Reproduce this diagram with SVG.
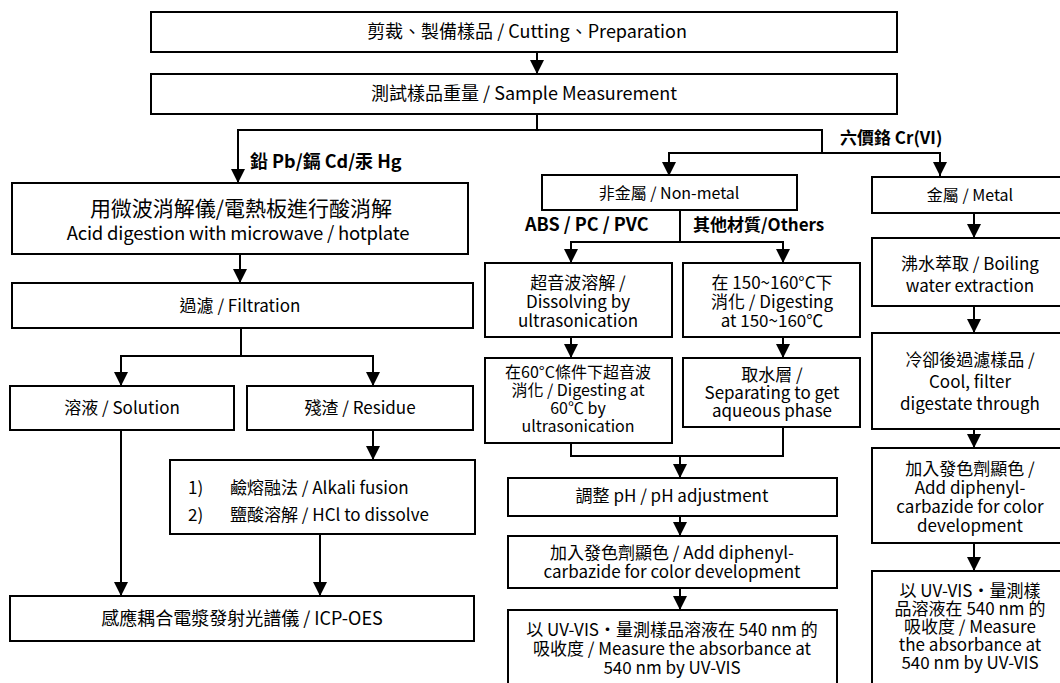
<svg xmlns="http://www.w3.org/2000/svg" width="1060" height="683" viewBox="0 0 1060 683">
<style>
.box{fill:#fff;stroke:#000;stroke-width:2}
.c{fill:none;stroke:#000;stroke-width:2}
text{font-family:"Noto Sans CJK TC","Noto Sans",sans-serif;fill:#000;font-size:17px}
.m{text-anchor:middle}
.b{font-weight:bold;font-size:18px}
.l{font-size:21px}
.la{font-size:18.5px;letter-spacing:-0.2px}
.s{font-size:16px}
.n{font-size:16px}
.big{font-size:18px}
</style>
<defs>
<marker id="arr" markerUnits="userSpaceOnUse" markerWidth="14" markerHeight="14" refX="14" refY="7" orient="auto">
<path d="M0,0 L14,7 L0,14 z" fill="#000"/>
</marker>
</defs>
<rect width="1060" height="683" fill="#fff"/>
<g id="connectors">
<path class="c" d="M537 52 V74" marker-end="url(#arr)"/>
<path class="c" d="M537 114 V130 H238 V183" marker-end="url(#arr)"/>
<path class="c" d="M537 130 H822 V153 H669 V176" marker-end="url(#arr)"/>
<path class="c" d="M822 153 H940 V176" marker-end="url(#arr)"/>
<path class="c" d="M240 254 V283" marker-end="url(#arr)"/>
<path class="c" d="M241 328 V356 H121 V386" marker-end="url(#arr)"/>
<path class="c" d="M241 356 H373 V386" marker-end="url(#arr)"/>
<path class="c" d="M373 430 V460" marker-end="url(#arr)"/>
<path class="c" d="M121 430 V596" marker-end="url(#arr)"/>
<path class="c" d="M320 534 V596" marker-end="url(#arr)"/>
<path class="c" d="M680 210 V242 H571 V263" marker-end="url(#arr)"/>
<path class="c" d="M680 242 H783 V263" marker-end="url(#arr)"/>
<path class="c" d="M571 337 V358" marker-end="url(#arr)"/>
<path class="c" d="M783 337 V358" marker-end="url(#arr)"/>
<path class="c" d="M571 443 V456 H783 V427"/>
<path class="c" d="M680 456 V478" marker-end="url(#arr)"/>
<path class="c" d="M680 516 V536" marker-end="url(#arr)"/>
<path class="c" d="M680 588 V610" marker-end="url(#arr)"/>
<path class="c" d="M974 213 V238" marker-end="url(#arr)"/>
<path class="c" d="M974 306 V333" marker-end="url(#arr)"/>
<path class="c" d="M974 429 V448" marker-end="url(#arr)"/>
<path class="c" d="M974 543 V571" marker-end="url(#arr)"/>
<text x="250" y="168" class="b">鉛 Pb/鎘 Cd/汞 Hg</text>
<text x="840" y="144" class="b" style="font-size:17px">六價鉻 Cr(VI)</text>
<text x="525" y="231" class="b">ABS / PC / PVC</text>
<text x="693" y="231" class="b" style="font-size:17px">其他材質/Others</text>
</g>
<g id="cutting"><rect class="box" x="151" y="12" width="746" height="40"/><text class="m big" x="527" y="38">剪裁、製備樣品 / Cutting、Preparation</text></g>
<g id="measure"><rect class="box" x="151" y="74" width="746" height="40"/><text class="m big" x="524" y="100">測試樣品重量 / Sample Measurement</text></g>
<g id="acid"><rect class="box" x="12" y="183" width="456" height="71"/><text class="m"><tspan class="l" x="241" y="216">用微波消解儀/電熱板進行酸消解</tspan><tspan class="la" x="238" y="240">Acid digestion with microwave / hotplate</tspan></text></g>
<g id="filtration"><rect class="box" x="12" y="283" width="461" height="45"/><text class="m" x="240" y="312">過濾 / Filtration</text></g>
<g id="solution"><rect class="box" x="10" y="386" width="224" height="44"/><text class="m" x="122" y="414">溶液 / Solution</text></g>
<g id="residue"><rect class="box" x="247" y="386" width="226" height="44"/><text class="m" x="360" y="414">殘渣 / Residue</text></g>
<g id="alkali"><rect class="box" x="170" y="460" width="305" height="74"/><text><tspan x="188" y="494">1)</tspan><tspan x="230" y="494">鹼熔融法 / Alkali fusion</tspan><tspan x="188" y="521">2)</tspan><tspan x="230" y="521">鹽酸溶解 / HCl to dissolve</tspan></text></g>
<g id="icp"><rect class="box" x="10" y="596" width="464" height="45"/><text class="m big" x="242" y="625">感應耦合電漿發射光譜儀 / ICP-OES</text></g>
<g id="nonmetal"><rect class="box" x="542" y="175" width="255" height="35"/><text class="m s" x="669" y="199">非金屬 / Non-metal</text></g>
<g id="ultra"><rect class="box" x="485" y="263" width="187" height="74"/><text class="m"><tspan x="578" y="289">超音波溶解 /</tspan><tspan x="578" y="308">Dissolving by</tspan><tspan x="578" y="327">ultrasonication</tspan></text></g>
<g id="digest150"><rect class="box" x="683" y="263" width="177" height="74"/><text class="m"><tspan x="772" y="289">在 150~160°C下</tspan><tspan x="772" y="308">消化 / Digesting</tspan><tspan x="772" y="327">at 150~160℃</tspan></text></g>
<g id="digest60"><rect class="box" x="485" y="358" width="187" height="85"/><text class="m n"><tspan x="578" y="378">在60°C條件下超音波</tspan><tspan x="578" y="396">消化 / Digesting at</tspan><tspan x="578" y="414">60℃ by</tspan><tspan x="578" y="432">ultrasonication</tspan></text></g>
<g id="aqueous"><rect class="box" x="683" y="358" width="177" height="69"/><text class="m"><tspan x="772" y="381">取水層 /</tspan><tspan x="772" y="399">Separating to get</tspan><tspan x="772" y="417">aqueous phase</tspan></text></g>
<g id="ph"><rect class="box" x="508" y="478" width="329" height="38"/><text class="m" x="672" y="502">調整 pH / pH adjustment</text></g>
<g id="color1"><rect class="box" x="508" y="536" width="329" height="52"/><text class="m"><tspan x="672" y="559">加入發色劑顯色 / Add diphenyl-</tspan><tspan x="672" y="578">carbazide for color development</tspan></text></g>
<g id="uv1"><rect class="box" x="508" y="610" width="329" height="80"/><text class="m"><tspan x="672" y="636">以 UV-VIS·量測樣品溶液在 540 nm 的</tspan><tspan x="672" y="655">吸收度 / Measure the absorbance at</tspan><tspan x="672" y="674">540 nm by UV-VIS</tspan></text></g>
<g id="metal"><rect class="box" x="872" y="177" width="200" height="36"/><text class="m s" x="970" y="201">金屬 / Metal</text></g>
<g id="boiling"><rect class="box" x="872" y="238" width="200" height="68"/><text class="m"><tspan x="970" y="270">沸水萃取 / Boiling</tspan><tspan x="970" y="292">water extraction</tspan></text></g>
<g id="cool"><rect class="box" x="872" y="333" width="200" height="96"/><text class="m"><tspan x="970" y="366">冷卻後過濾樣品 /</tspan><tspan x="970" y="388">Cool, filter</tspan><tspan x="970" y="410">digestate through</tspan></text></g>
<g id="color2"><rect class="box" x="872" y="448" width="200" height="95"/><text class="m"><tspan x="970" y="475">加入發色劑顯色 /</tspan><tspan x="970" y="494">Add diphenyl-</tspan><tspan x="970" y="513">carbazide for color</tspan><tspan x="970" y="532">development</tspan></text></g>
<g id="uv2"><rect class="box" x="872" y="571" width="200" height="120"/><text class="m"><tspan x="970" y="597">以 UV-VIS·量測樣</tspan><tspan x="970" y="615">品溶液在 540 nm 的</tspan><tspan x="970" y="633">吸收度 / Measure</tspan><tspan x="970" y="651">the absorbance at</tspan><tspan x="970" y="669">540 nm by UV-VIS</tspan></text></g>
</svg>
